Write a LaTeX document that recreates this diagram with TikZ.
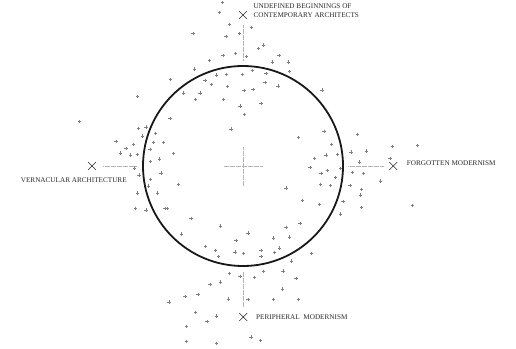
\documentclass[tikz,border=0pt]{standalone}
\usepackage{fontspec}
\setmainfont{Liberation Serif}
\usetikzlibrary{shapes.misc}
\definecolor{plusgray}{HTML}{808080}
\definecolor{guidegray}{HTML}{B4B4B4}
\definecolor{inkgray}{HTML}{2A2A2A}
\tikzset{
  ring/.style={circle, draw=black!90, line width=1.8pt, minimum size=200pt, inner sep=0pt},
  xmark/.style={cross out, draw=inkgray, line width=0.6pt, minimum size=7.3pt, inner sep=0pt},
  guide/.style={draw=guidegray, line width=0.6pt, dash pattern=on 0.5pt off 0.7pt},
  plusmark/.style={draw=plusgray, line width=0.6pt},
  lbl/.style={inner sep=0pt, text=inkgray, font=\fontsize{7.2}{8.7}\selectfont},
}
\begin{document}
\begin{tikzpicture}[x=1pt,y=-1pt]
\useasboundingbox (0,0) rectangle (516,348);
% circle
\node[ring] (ring) at (243,166) {};
% centre cross
\coordinate (ch1) at (223.5,166); \coordinate (ch2) at (262,166);
\coordinate (cv1) at (243,147); \coordinate (cv2) at (243,185.5);
\draw[guide] (ch1) -- (ch2);
\draw[guide] (cv1) -- (cv2);
% markers
\node[xmark] (xtop) at (243,15) {};
\node[xmark] (xleft) at (92,166) {};
\node[xmark] (xright) at (393.3,166) {};
\node[xmark] (xbot) at (243.3,317) {};
% guide lines
\coordinate (gt1) at (243,25); \coordinate (gt2) at (243,60.5);
\coordinate (gl1) at (103.3,166); \coordinate (gl2) at (136.5,166);
\coordinate (gr1) at (348.3,166); \coordinate (gr2) at (383.3,166);
\coordinate (gb1) at (243.3,271.5); \coordinate (gb2) at (243.3,306.5);
\draw[guide] (gt1) -- (gt2);
\draw[guide] (gl1) -- (gl2);
\draw[guide] (gr1) -- (gr2);
\draw[guide] (gb1) -- (gb2);
% labels
\node[lbl, anchor=base west] (ltop1) at (253.3,8.8) {UNDEFINED BEGINNINGS OF};
\node[lbl, anchor=base west] (ltop2) at (253.3,17.6) {CONTEMPORARY ARCHITECTS};
\node[lbl, anchor=base west] (lleft) at (20.7,182.6) {VERNACULAR ARCHITECTURE};
\node[lbl, anchor=base west] (lright) at (406.7,165.9) {FORGOTTEN MODERNISM};
\node[lbl, anchor=base west] (lbot) at (256,319.2) {PERIPHERAL\ \ MODERNISM};
% scattered plus marks
\foreach \px/\py in {
 222.5/2.3, 219.3/12.7, 229.3/24.2, 251.5/27.3, 193/33.3, 226/36.7, 239.7/33.2,
 258.3/48.3, 263.3/45, 223/55.3, 235.5/53.5, 246.2/56.7, 278.8/55.7, 209.5/60.7,
 272.7/62, 288.5/62, 194.3/69, 252.2/70.7, 170.5/79.3, 216.5/74.8, 226.3/74.7,
 242.2/74.7, 266/73.7, 289.7/71.7, 204.8/80.3, 211.5/84.7, 227.3/86.7, 264.8/82.3,
 277.8/86, 183.7/93, 200/93, 243.8/90.7, 253/89.7, 322/90, 195.7/99.7, 223.3/99.3,
 240/106, 261/103.3, 244.5/114.7, 170/118.7, 137.7/96.7, 79.3/121.3,
 231/129, 138.3/128.3, 146/127, 155.7/133.3, 142.2/136, 116/141.2, 133.3/144.3,
 126/148.3, 153.7/142.7, 163.3/142.7, 150/149.3, 120.2/153, 130.7/155, 137.3/154.5,
 173.7/153.3, 159.2/158.8, 150.2/161.7, 134.5/168, 139/175, 161/173, 150.7/179.2,
 148.7/185.8, 178.7/184.3, 137.5/192.8, 157.7/192.8, 135.7/208.2, 146/209.8,
 165/208.5, 167.5/208.5, 191/218.2, 220.2/225.8, 181.5/233.8,
 298.5/137.2, 324/131.3, 357.2/134.2, 331.7/144.3, 351/151.8, 366.3/150.8,
 392.5/146.5, 417.3/145.5, 314.5/158.5, 326/154.8, 337.5/154.5, 359.2/162,
 390/158.3, 310/167.5, 320.8/173.2, 327.3/170.3, 340.2/168.7, 352.3/172.2,
 363.7/173.5, 335.7/177.2, 380.3/180.8, 320.2/184.3, 330.5/185.7, 350/185.7,
 286/187.8, 361.2/189.3, 360.3/195, 302.5/200.3, 319.3/204.5, 343/201.3,
 361.2/207.3, 412.2/205.2, 340.2/214, 286/227.2, 299.8/223.5, 248/232.8,
 235.8/240.3, 205.3/246.3, 215.3/250.3, 218.7/256.3, 235/252, 243.5/253.5,
 229.3/273.7, 239.8/276.3, 210/284.7, 220.3/282, 169/302, 185/296.7, 198/294.7,
 228.7/299, 195.7/312.3, 207/321.7, 216.7/316, 186.3/326.7, 186.3/341.7,
 216.3/343.3, 273.3/238, 289.5/236.8, 261/250.7, 261/256.7, 274.7/252.7,
 279.7/248, 311.3/253.3, 291.7/261, 263.3/271.3, 283/271, 254.7/277.3, 296/278.3,
 282.7/289, 248/299.7, 273.3/299.7, 298.3/299.7, 251/337, 260.3/340.3}
 {\draw[plusmark] (\px-1.7,\py) -- (\px+1.7,\py) (\px,\py-1.7) -- (\px,\py+1.7);}
\end{tikzpicture}
\end{document}
